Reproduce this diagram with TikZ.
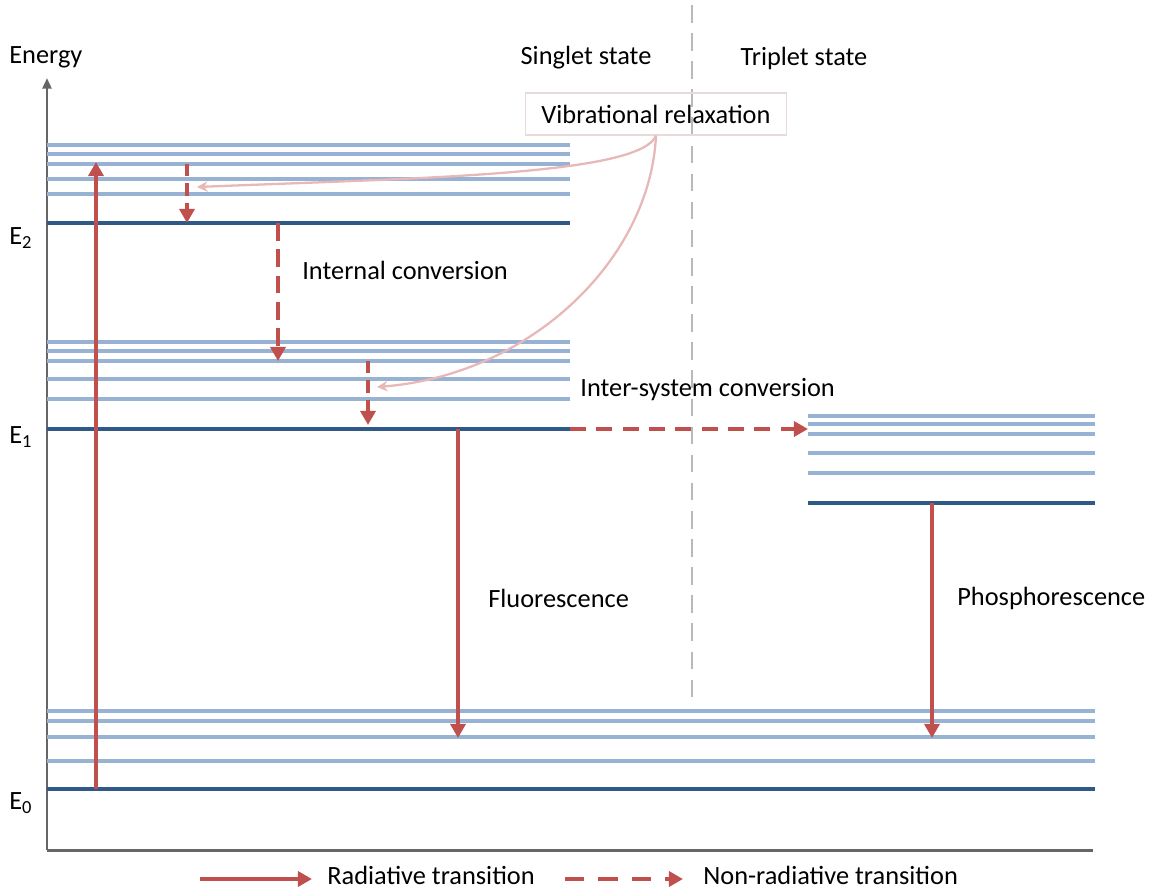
\documentclass[tikz,border=0pt]{standalone}
\usepackage{fontspec}
\setmainfont{Carlito}
\usetikzlibrary{arrows.meta}
\definecolor{lvl}{HTML}{97B2D3}
\definecolor{lvldark}{HTML}{2F5987}
\definecolor{arr}{HTML}{C0504D}
\definecolor{vr}{HTML}{E8B8B8}
\definecolor{boxc}{HTML}{E6DADA}
\definecolor{axisc}{HTML}{666666}
\tikzset{
  lvlline/.style={draw=lvl,line width=2.5pt},
  lvlbase/.style={draw=lvldark,line width=2pt},
  radiative/.style={draw=arr,line width=2.3pt,-{Triangle[length=8pt,width=8.5pt]}},
  nonrad/.style={draw=arr,line width=2.3pt,dash pattern=on 10pt off 5pt,-{Triangle[length=8pt,width=8.5pt]}},
  vrarrow/.style={draw=vr,line width=1.3pt,-{Stealth[length=6pt,width=6pt]}},
  lbl/.style={font=\fontsize{15}{17}\selectfont,inner sep=0pt},
}
\begin{document}
\begin{tikzpicture}[x=0.02cm,y=-0.02cm]
\useasboundingbox (0,0) rectangle (1149,892);
% divider
\draw[gray!55,line width=0.8pt,dash pattern=on 10pt off 6pt] (692,5) -- (692,700);
% axes
\coordinate (orig) at (47,850);
\coordinate (ytop) at (47,78);
\coordinate (xend) at (1093,850);
\draw[axisc,line width=1.7pt,-{Triangle[length=6pt,width=5pt]}] (orig) -- (ytop);
\draw[axisc,line width=1.7pt] (orig) -- (xend);
% S2 levels
\foreach \y in {145,154,164,179,194} \draw[lvlline] (47,\y) -- (570,\y);
\draw[lvlbase] (47,223) -- (570,223);
% S1 levels
\foreach \y in {342,351,361,379,399} \draw[lvlline] (47,\y) -- (570,\y);
\draw[lvlbase] (47,429) -- (570,429);
% T1 levels
\foreach \y in {416,424,434,453,473} \draw[lvlline] (808,\y) -- (1095,\y);
\draw[lvlbase] (808,503) -- (1095,503);
% S0 levels
\foreach \y in {711,721,737,761} \draw[lvlline] (47,\y) -- (1095,\y);
\draw[lvlbase] (47,789) -- (1095,789);
% labels
\node[lbl,anchor=west] (energy) at (9,57) {Energy};
\node[lbl] (singlet) at (586,58) {Singlet state};
\node[lbl] (triplet) at (804,58) {Triplet state};
\node[lbl,anchor=west] (e2) at (9,238) {E\textsubscript{2}};
\node[lbl,anchor=west] (e1) at (9,437) {E\textsubscript{1}};
\node[lbl,anchor=west] (e0) at (9,803) {E\textsubscript{0}};
\node[lbl,anchor=west] (ic) at (302,270) {Internal conversion};
\node[lbl,anchor=west] (isc) at (580,390) {Inter-system conversion};
\node[lbl,anchor=west] (fl) at (488,598) {Fluorescence};
\node[lbl,anchor=west] (ph) at (957,598) {Phosphorescence};
\node[lbl,draw=boxc,line width=0.7pt,minimum width=261*0.02cm,minimum height=42*0.02cm] (vrbox) at (656,114) {Vibrational relaxation};
% coordinates for transitions
\coordinate (exA) at (96,789); \coordinate (exB) at (96,162);
\coordinate (v2A) at (187,164); \coordinate (v2B) at (187,223);
\coordinate (icA) at (278,223); \coordinate (icB) at (278,361);
\coordinate (v1A) at (368,361); \coordinate (v1B) at (368,425);
\coordinate (flA) at (458,429); \coordinate (flB) at (458,738);
\coordinate (iscA) at (570,429); \coordinate (iscB) at (808,429);
\coordinate (phA) at (932,503); \coordinate (phB) at (932,738);
\coordinate (vrT1) at (197,187);
\coordinate (vrT2) at (377,387);
\draw[radiative] (exA) -- (exB);
\draw[nonrad,dash pattern=on 7pt off 4pt] (v2A) -- (v2B);
\draw[nonrad] (icA) -- (icB);
\draw[nonrad,dash pattern=on 7pt off 4pt] (v1A) -- (v1B);
\draw[radiative] (flA) -- (flB);
\draw[nonrad,dash pattern=on 9pt off 6pt] (iscA) -- (iscB);
\draw[radiative] (phA) -- (phB);
% vibrational relaxation pointers
\draw[vrarrow] (vrbox.south) .. controls (640,175) and (420,178) .. (vrT1);
\draw[vrarrow] (vrbox.south) .. controls (650,260) and (530,375) .. (vrT2);
% legend
\coordinate (lgA1) at (200,879); \coordinate (lgA2) at (312,879);
\coordinate (lgB1) at (565,879); \coordinate (lgB2) at (683,879);
\draw[radiative] (lgA1) -- (lgA2);
\node[lbl,anchor=west] (lgAt) at (327,875) {Radiative transition};
\draw[nonrad,dash pattern=on 11pt off 8pt] (lgB1) -- (lgB2);
\node[lbl,anchor=west] (lgBt) at (703,875) {Non-radiative transition};
\end{tikzpicture}
\end{document}
